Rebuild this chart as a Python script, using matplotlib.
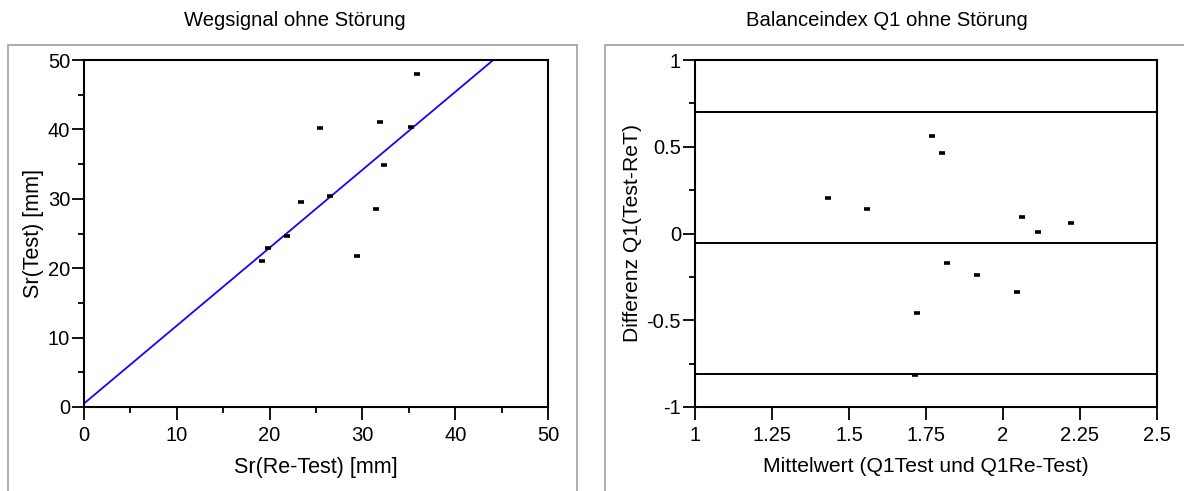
import matplotlib
matplotlib.use("Agg")
import matplotlib.pyplot as plt
from matplotlib.patches import Rectangle
from matplotlib.ticker import MultipleLocator

plt.rcParams['font.family'] = ['Liberation Sans', 'DejaVu Sans']

# Left panel data
sr_retest = [19.2, 19.8, 21.9, 23.4, 25.4, 26.5, 29.4, 31.5, 31.9, 32.3, 35.2, 35.9]
sr_test = [21.0, 22.9, 24.6, 29.6, 40.2, 30.4, 21.8, 28.5, 41.0, 34.9, 40.4, 48.0]
fit_x = [0.0, 44.1]
fit_y = [0.5, 50.0]

# Right panel data
q1_mean = [1.433, 1.558, 1.770, 1.801, 1.818, 1.914, 1.720, 1.713, 2.045, 2.063, 2.114, 2.220]
q1_diff = [0.207, 0.140, 0.564, 0.464, -0.171, -0.238, -0.459, -0.818, -0.340, 0.094, 0.008, 0.061]
ba_lines = [0.702, -0.056, -0.812]

fig = plt.figure(figsize=(11.84, 4.91), dpi=100)

# outer gray frames
for x0, w in [(8, 569), (605, 590)]:
    fig.patches.append(Rectangle((x0 / 1184, -0.1), w / 1184, (491 - 45) / 491 + 0.1,
                                 transform=fig.transFigure, fill=False,
                                 edgecolor='#a0a0a0', linewidth=1.2))

ax1 = fig.add_axes([84 / 1184, 1 - 407 / 491, (548 - 84) / 1184, (407 - 60) / 491])
ax2 = fig.add_axes([695 / 1184, 1 - 407 / 491, (1157 - 695) / 1184, (407 - 60) / 491])

ax1.plot(fit_x, fit_y, color='#1a00ff', linewidth=1.3, zorder=2)
ax1.plot(sr_retest, sr_test, linestyle='none', marker='_', markersize=4.7,
         markeredgewidth=2.6, color='black', zorder=3)
ax1.set_xlim(0, 50)
ax1.set_ylim(0, 50)
ax1.xaxis.set_major_locator(MultipleLocator(10))
ax1.xaxis.set_minor_locator(MultipleLocator(5))
ax1.yaxis.set_major_locator(MultipleLocator(10))
ax1.yaxis.set_minor_locator(MultipleLocator(5))
ax1.set_xlabel('Sr(Re-Test) [mm]', fontsize=15.5)
ax1.set_ylabel('Sr(Test) [mm]', fontsize=15.5)
fig.text(295 / 1184, 1 - 21 / 491, 'Wegsignal ohne Störung', ha='center', va='center', fontsize=14.6)

for y in ba_lines:
    ax2.axhline(y, color='black', linewidth=1.4, zorder=2)
ax2.plot(q1_mean, q1_diff, linestyle='none', marker='_', markersize=4.7,
         markeredgewidth=2.6, color='black', zorder=3)
ax2.set_xlim(1, 2.5)
ax2.set_ylim(-1, 1)
ax2.set_xticks([1, 1.25, 1.5, 1.75, 2, 2.25, 2.5])
ax2.set_xticklabels(['1', '1.25', '1.5', '1.75', '2', '2.25', '2.5'])
ax2.set_yticks([-1, -0.5, 0, 0.5, 1])
ax2.set_yticklabels(['-1', '-0.5', '0', '0.5', '1'])
ax2.yaxis.set_minor_locator(MultipleLocator(0.25))
ax2.set_xlabel('Mittelwert (Q1Test und Q1Re-Test)', fontsize=15.2)
ax2.set_ylabel('Differenz Q1(Test-ReT)', fontsize=15.2)
fig.text(887 / 1184, 1 - 21 / 491, 'Balanceindex Q1 ohne Störung', ha='center', va='center', fontsize=14.6)

ax1.yaxis.set_label_coords((33 - 84) / 464, 0.5)
ax2.yaxis.set_label_coords((632 - 695) / 462, 0.5)
for ax in (ax1, ax2):
    ax.xaxis.label.set_va('center')
    ax.yaxis.label.set_va('center')
    ax.xaxis.set_label_coords(0.5, (407 - 467) / 347)
    for s in ax.spines.values():
        s.set_linewidth(1.5)
        s.set_color('black')
    ax.tick_params(which='major', direction='out', length=9, width=1.3, labelsize=14.5)
    ax.tick_params(which='minor', direction='out', length=4.5, width=1.3)
    ax.tick_params(axis='y', which='major', pad=1)
    ax.tick_params(axis='x', which='major', pad=5)
    ax.tick_params(top=False, right=False, which='both')

fig.savefig('out.png', dpi=100)
